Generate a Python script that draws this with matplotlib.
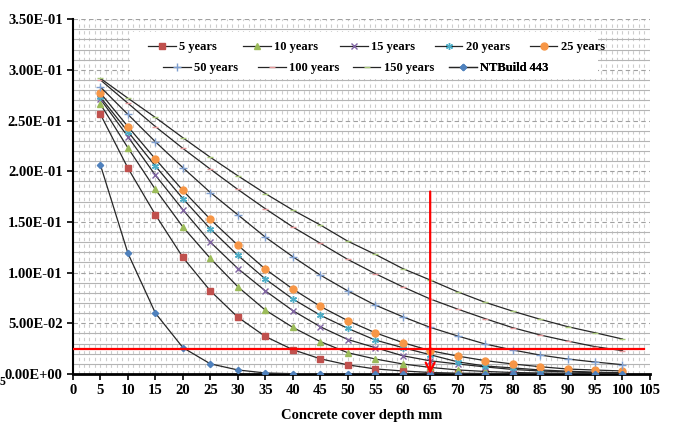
import numpy as np
import matplotlib
matplotlib.use('Agg')
import matplotlib.pyplot as plt
from matplotlib.ticker import MultipleLocator, FuncFormatter
from matplotlib.patches import Rectangle

plt.rcParams['font.family'] = ['Liberation Serif', 'DejaVu Serif']
plt.rcParams['font.weight'] = 'bold'

# %% data
depth = [5, 10, 15, 20, 25, 30, 35, 40, 45, 50, 55, 60, 65, 70, 75, 80, 85, 90, 95, 100]

y5 = [0.256, 0.203, 0.157, 0.115, 0.082, 0.056, 0.037, 0.024, 0.015, 0.009,
      0.005, 0.003, 0.0015, 0.0008, 0.0005, 0.0003, 0.0002, 0.0001, 0.0001, 0.0]
y10 = [0.266, 0.223, 0.182, 0.145, 0.114, 0.086, 0.063, 0.046, 0.032, 0.021,
       0.0148, 0.0099, 0.0065, 0.004, 0.0025, 0.0015, 0.001, 0.0006, 0.0004, 0.0003]
y15 = [0.271, 0.234, 0.196, 0.162, 0.130, 0.104, 0.082, 0.0625, 0.0466, 0.034,
       0.026, 0.018, 0.013, 0.0099, 0.007, 0.0045, 0.003, 0.002, 0.0013, 0.0008]
y20 = [0.273, 0.239, 0.205, 0.173, 0.143, 0.117, 0.0937, 0.074, 0.058, 0.045,
       0.0335, 0.026, 0.019, 0.012, 0.0079, 0.006, 0.004, 0.0028, 0.0018, 0.0012]
y25 = [0.277, 0.244, 0.212, 0.181, 0.1525, 0.127, 0.1035, 0.0838, 0.0667, 0.0526,
       0.0407, 0.031, 0.023, 0.0177, 0.0132, 0.0099, 0.0072, 0.0049, 0.0039, 0.003]
y50 = [0.283, 0.256, 0.229, 0.2035, 0.179, 0.157, 0.135, 0.1157, 0.0976, 0.082,
       0.068, 0.0565, 0.046, 0.0375, 0.0296, 0.0237, 0.0187, 0.0148, 0.0118, 0.0092]
y100 = [0.290, 0.267, 0.244, 0.2225, 0.202, 0.182, 0.163, 0.145, 0.129, 0.113,
        0.099, 0.086, 0.074, 0.064, 0.0546, 0.0457, 0.0385, 0.0325, 0.027, 0.023]
y150 = [0.2915, 0.272, 0.253, 0.233, 0.2137, 0.1955, 0.178, 0.1617, 0.147, 0.131,
        0.118, 0.104, 0.0927, 0.081, 0.0707, 0.062, 0.054, 0.0467, 0.0407, 0.0345]
ynt = [0.206, 0.119, 0.060, 0.026, 0.010, 0.004, 0.001, 0.0003, 0.0001, 0.0,
       0.0, 0.0, 0.0, 0.0, 0.0, 0.0, 0.0, 0.0, 0.0, 0.0]

limit_value = 0.0243
arrow_x = 65
arrow_top = 0.18

# %%
fig = plt.figure(figsize=(6.76, 4.25), dpi=100)
ax = fig.add_axes([0.108, 0.12, 0.8535, 0.835])

series = [
    (y5, '5 years', 's', '#C0504D', 4.5),
    (y10, '10 years', '^', '#9BBB59', 4.5),
    (y15, '15 years', 'x', '#8064A2', 5),
    (y20, '20 years', (6, 2, 0), '#4BACC6', 5),
    (y25, '25 years', 'o', '#F79646', 5),
    (y50, '50 years', '+', '#7F9FD0', 6),
    (y100, '100 years', '_', '#E5989A', 4),
    (y150, '150 years', '_', '#A9C87A', 5),
    (ynt, 'NTBuild 443', 'D', '#4F81BD', 3.2),
]
handles = []
for ys, lab, mk, col, ms in series:
    h, = ax.plot(depth, ys, color='#262626', lw=0.9, marker=mk, ms=ms,
                 mfc=col, mec=col, mew=1.0, label=lab, zorder=3)
    handles.append(h)

ax.axhline(limit_value, xmin=0, xmax=104 / 105, color='#FF0000', lw=1.6, zorder=4)
ax.annotate('', xy=(arrow_x, 0.0), xytext=(arrow_x, arrow_top),
            arrowprops=dict(arrowstyle='->', color='#FF0000', lw=1.6,
                            mutation_scale=16, shrinkA=0, shrinkB=0), zorder=5)

ax.set_xlim(0, 105)
ax.set_ylim(0, 0.35)
ax.xaxis.set_major_locator(MultipleLocator(5))
ax.xaxis.set_minor_locator(MultipleLocator(1))
ax.yaxis.set_major_locator(MultipleLocator(0.05))
ax.yaxis.set_minor_locator(MultipleLocator(0.01))
ax.yaxis.set_major_formatter(FuncFormatter(lambda v, p: f'{v:.2E}'))

ax.grid(which='major', axis='y', color='#A0A0A0', ls=(0, (4, 3)), lw=0.8)
ax.grid(which='minor', axis='y', color='#B4B4B4', ls='-', lw=0.8)
ax.grid(which='both', axis='x', color='#CDCDCD', ls=(0, (3, 3)), lw=0.8)
ax.set_axisbelow(True)

for s in ['top', 'right']:
    ax.spines[s].set_visible(False)
ax.spines['left'].set_linewidth(1.5)
ax.spines['bottom'].set_linewidth(2.0)
ax.tick_params(axis='both', which='major', direction='out', length=4, width=1.2,
               labelsize=10.5)
ax.tick_params(axis='both', which='minor', length=0)
for t in ax.get_xticklabels() + ax.get_yticklabels():
    t.set_fontweight('bold')

ax.set_xlabel('Concrete cover depth mm', fontsize=10.5, fontweight='bold', labelpad=8)

# white box behind the legend
ax.add_patch(Rectangle((10.4, 0.291), 85.1, 0.046, transform=ax.transData,
                       facecolor='white', edgecolor='none', zorder=2))

# legend entries placed one by one, two rows
leg_x = [0.130, 0.295, 0.463, 0.627, 0.792, 0.156, 0.321, 0.485, 0.652]
leg_y = [0.921] * 5 + [0.862] * 4
for h, lx, ly in zip(handles, leg_x, leg_y):
    lg = ax.legend(handles=[h], loc='center left', bbox_to_anchor=(lx, ly),
                   frameon=False, prop={'weight': 'bold', 'size': 9},
                   handlelength=2.2, handletextpad=0.3, borderpad=0,
                   borderaxespad=0)
    ax.add_artist(lg)

fig.text(0.0, 0.094, '5', fontsize=8.5, fontweight='bold')

fig.savefig('out.png', dpi=100)
